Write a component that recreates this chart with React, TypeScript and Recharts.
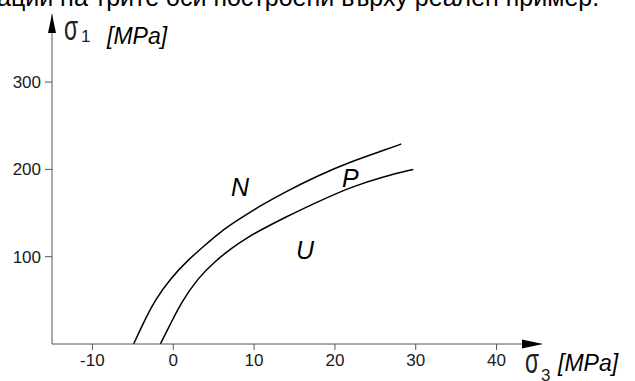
import { LineChart, Line, XAxis, YAxis } from 'recharts';

// upper boundary (between N and P)
const upperX = [-4.9, -3.8, -2.3, -0.25, 1.8, 3.9, 5.9, 8.0, 10.5, 13.8, 17.9, 22.0, 26.1, 28.2];
const upperY = [0, 22, 50, 76, 96, 113, 129, 142, 157, 174, 193, 209, 222, 229];

// lower boundary (between P and U)
const lowerX = [-1.6, -0.5, 1.0, 3.1, 5.1, 7.2, 9.2, 10.7, 13.8, 17.9, 22.0, 26.1, 29.7];
const lowerY = [0, 20, 48, 76, 94, 110, 122, 130, 145, 163, 180, 192, 200];

const xTicks = [-10, 0, 10, 20, 30, 40];
const yTicks = [100, 200, 300];

const upperData = upperX.map((x, i) => ({ x, y: upperY[i] }));
const lowerData = lowerX.map((x, i) => ({ x, y: lowerY[i] }));

const FONT = '"Liberation Sans", Arial, sans-serif';
const AXIS = '#555';

export default function App() {
  return (
    <div style={{ position: 'absolute', left: 0, top: 0, width: 635, height: 381, background: '#fff', overflow: 'hidden' }}>
      <LineChart
        width={635}
        height={381}
        margin={{ top: 14, right: 94, bottom: 0, left: 0 }}
      >
        <XAxis
          type="number"
          dataKey="x"
          domain={[-15, 45.5]}
          ticks={xTicks}
          allowDataOverflow
          height={37}
          tickSize={6}
          tickMargin={4}
          stroke={AXIS}
          tick={{ fill: '#1a1a1a', fontSize: 17, fontFamily: FONT }}
        />
        <YAxis
          type="number"
          dataKey="y"
          domain={[0, 378]}
          ticks={yTicks}
          allowDataOverflow
          width={52}
          tickSize={7}
          tickMargin={4}
          stroke={AXIS}
          tick={{ fill: '#1a1a1a', fontSize: 17, fontFamily: FONT }}
        />
        <Line data={upperData} dataKey="y" type="basis" stroke="#000" strokeWidth={1.5} dot={false} isAnimationActive={false} />
        <Line data={lowerData} dataKey="y" type="basis" stroke="#000" strokeWidth={1.5} dot={false} isAnimationActive={false} />
      </LineChart>
      <svg width={635} height={381} style={{ position: 'absolute', left: 0, top: 0, pointerEvents: 'none' }}>
        <text x={-3} y={6} fontSize={25} fontFamily={FONT} fill="#000">ации на трите оси построени върху реален пример.</text>
        <polygon points="52,14 48,33 56,33" fill="#000" />
        <polygon points="543,344 522,339.5 522,348.5" fill="#000" />
        <text transform="translate(64,40) scale(0.95,1.5)" fontSize={24} fontFamily={FONT} fill="#222">σ</text>
        <text x={81} y={42} fontSize={17} fontFamily={FONT} fill="#222">1</text>
        <text x={107} y={44} fontSize={23} fontStyle="italic" fontFamily={FONT} fill="#000">[MPa]</text>
        <text transform="translate(525,373) scale(0.95,1.5)" fontSize={24} fontFamily={FONT} fill="#222">σ</text>
        <text x={541} y={381} fontSize={17} fontFamily={FONT} fill="#222">3</text>
        <text x={558} y={371} fontSize={23} fontStyle="italic" fontFamily={FONT} fill="#000">[MPa]</text>
        <text x={231} y={196} fontSize={25} fontStyle="italic" fontFamily={FONT} fill="#000">N</text>
        <text x={342} y={187} fontSize={25} fontStyle="italic" fontFamily={FONT} fill="#000">P</text>
        <text x={296} y={259} fontSize={25} fontStyle="italic" fontFamily={FONT} fill="#000">U</text>
      </svg>
    </div>
  );
}
